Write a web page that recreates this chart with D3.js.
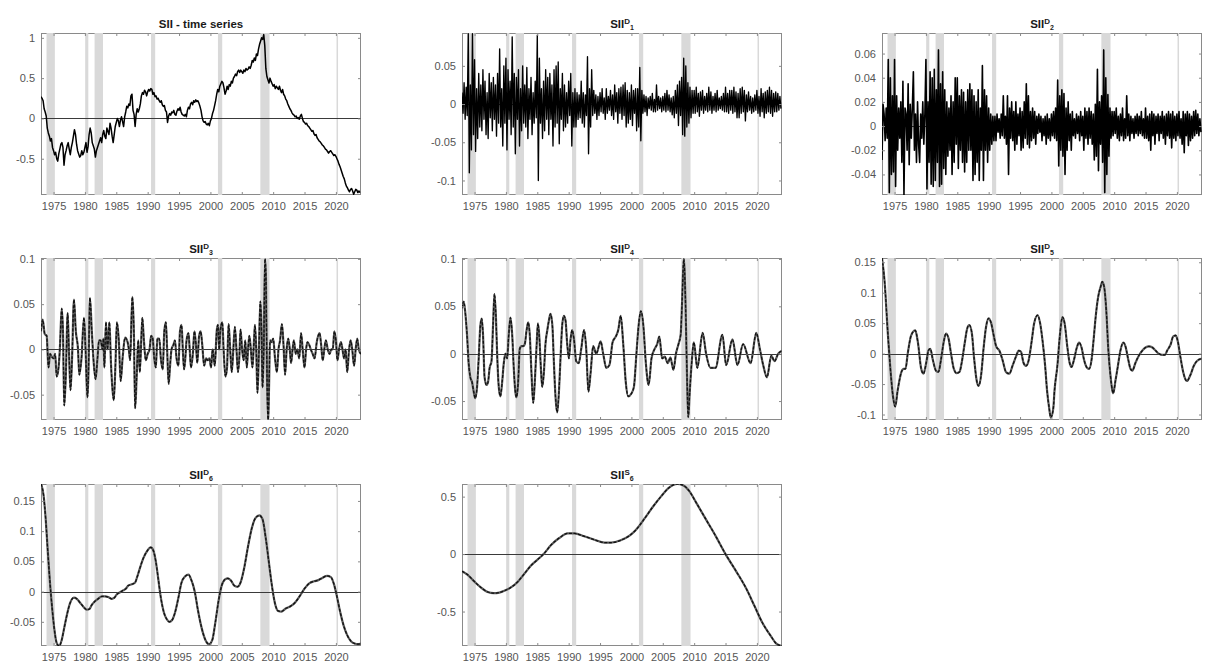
<!DOCTYPE html>
<html><head><meta charset="utf-8">
<script src="https://cdn.jsdelivr.net/npm/d3@7"></script>
<style>
body{margin:0;background:#fff}
svg{display:block}
text{font-family:"Liberation Sans",Arial,Helvetica,sans-serif}
</style>
</head><body>
<svg id="c" width="1212" height="672"></svg>
<script>
// ---------- data ----------
const xDomain = [1973, 2024];
const xTicks = [1975, 1980, 1985, 1990, 1995, 2000, 2005, 2010, 2015, 2020];
const recessions = [[1973.88,1975.21],[1980.04,1980.54],[1981.54,1982.88],[1990.54,1991.2],[2001.2,2001.88],[2007.96,2009.42],[2020.1,2020.3]];

// SII time series, two-monthly from 1973.0
const siiStart = 1973, siiStep = 1/6;
const siiValues = [
0.27,0.25,0.22,0.12,0.08,0.03, -0.12,-0.18,-0.22,-0.28,-0.25,-0.36,
-0.40,-0.45,-0.42,-0.50,-0.53,-0.44, -0.38,-0.32,-0.30,-0.36,-0.58,-0.45,
-0.40,-0.34,-0.30,-0.38,-0.45,-0.36, -0.30,-0.22,-0.14,-0.20,-0.32,-0.40,
-0.44,-0.48,-0.46,-0.40,-0.45,-0.42, -0.36,-0.30,-0.42,-0.35,-0.20,-0.12,
-0.18,-0.30,-0.34,-0.38,-0.48,-0.40, -0.36,-0.32,-0.28,-0.24,-0.30,-0.20,
-0.15,-0.22,-0.25,-0.12,-0.16,-0.20, -0.06,-0.12,-0.22,-0.30,-0.20,-0.10,
-0.05,0.00,-0.03,-0.10,-0.02,0.02, -0.04,-0.10,0.02,0.08,0.15,0.13,
0.18,0.16,0.28,0.30,0.10,0.05, -0.10,0.05,0.12,0.08,0.12,0.18,
0.28,0.32,0.30,0.35,0.33,0.28, 0.33,0.36,0.34,0.37,0.36,0.30,
0.32,0.27,0.28,0.24,0.25,0.22, 0.20,0.22,0.17,0.15,0.16,0.10,
0.08,-0.05,0.03,0.06,0.04,0.08, 0.07,0.10,0.05,0.04,0.09,0.12,
0.10,0.14,0.08,0.05,0.04,0.03, 0.05,0.02,0.10,0.14,0.12,0.18,
0.20,0.17,0.22,0.20,0.23,0.21, 0.22,0.19,0.15,0.10,0.02,-0.03,
-0.05,-0.04,-0.07,-0.08,-0.06,-0.09, -0.03,0.00,0.06,0.10,0.16,0.22,
0.30,0.36,0.33,0.40,0.43,0.46, 0.44,0.38,0.30,0.34,0.40,0.36,
0.42,0.40,0.46,0.44,0.50,0.52, 0.55,0.53,0.58,0.60,0.57,0.60,
0.58,0.56,0.60,0.58,0.62,0.60, 0.61,0.64,0.62,0.66,0.72,0.70,
0.75,0.72,0.80,0.78,0.86,0.92, 0.96,1.00,0.98,1.04,0.90,0.62,
0.52,0.48,0.44,0.50,0.46,0.43, 0.40,0.42,0.37,0.40,0.38,0.36,
0.40,0.35,0.32,0.36,0.30,0.28, 0.24,0.22,0.18,0.15,0.12,0.10,
0.07,0.05,0.04,0.02,0.03,0.00, 0.01,-0.01,0.03,0.05,0.00,-0.04,
-0.05,-0.07,-0.06,-0.09,-0.10,-0.12, -0.14,-0.16,-0.15,-0.19,-0.21,-0.20,
-0.24,-0.26,-0.28,-0.29,-0.31,-0.33, -0.34,-0.36,-0.38,-0.39,-0.41,-0.43,
-0.41,-0.40,-0.42,-0.44,-0.46,-0.45, -0.47,-0.50,-0.53,-0.57,-0.60,-0.64,
-0.68,-0.72,-0.75,-0.80,-0.84,-0.86, -0.89,-0.91,-0.88,-0.87,-0.90,-0.94,
-0.91,-0.88,-0.89,-0.92,-0.90,-0.92
];

// D1, two-monthly from 1973.0
const d1Start = 1973, d1Step = 1/6;
const d1Values = [
0.015,-0.012,0.028,-0.02,0.022,-0.015, 0.092,-0.09,0.025,-0.06,0.092,-0.04,
0.058,-0.062,0.02,-0.045,0.04,-0.03, 0.025,-0.035,0.045,-0.02,0.03,-0.04,
0.015,-0.045,0.04,-0.018,0.028,-0.035, 0.035,-0.02,0.025,-0.042,0.04,-0.025,
0.072,-0.03,0.02,-0.055,0.05,-0.025, 0.06,-0.06,0.045,-0.02,0.03,-0.04,
0.088,-0.03,0.04,-0.065,0.035,-0.02, 0.045,-0.055,0.02,-0.035,0.05,-0.025,
0.025,-0.03,0.048,-0.045,0.02,-0.02, 0.035,-0.04,0.015,-0.025,0.03,-0.018,
0.09,-0.1,0.06,-0.025,0.02,-0.045, 0.03,-0.035,0.045,-0.02,0.035,-0.04,
0.04,-0.02,0.025,-0.055,0.045,-0.03, 0.05,-0.025,0.055,-0.052,0.02,-0.02,
0.04,-0.035,0.025,-0.03,0.015,-0.025, 0.03,-0.015,0.04,-0.055,0.015,-0.03,
0.02,-0.03,0.015,-0.02,0.012,-0.018, 0.03,-0.025,0.015,-0.03,0.012,-0.015,
0.062,-0.065,0.02,-0.03,0.045,-0.015, 0.018,-0.012,0.012,-0.02,0.01,-0.015,
0.015,-0.01,0.02,-0.012,0.008,-0.02, 0.02,-0.012,0.01,-0.008,0.018,-0.015,
0.012,-0.02,0.025,-0.01,0.015,-0.025, 0.02,-0.012,0.022,-0.02,0.025,-0.015,
0.028,-0.03,0.018,-0.025,0.015,-0.02, 0.025,-0.028,0.018,-0.012,0.02,-0.035,
0.02,-0.03,0.048,-0.048,0.018,-0.012, 0.012,-0.01,0.01,-0.015,0.008,-0.006,
0.01,-0.008,0.014,-0.01,0.006,-0.01, 0.025,-0.008,0.01,-0.006,0.008,-0.01,
0.01,-0.008,0.014,-0.01,0.018,-0.008, 0.012,-0.01,0.008,-0.014,0.01,-0.018,
0.018,-0.012,0.025,-0.028,0.03,-0.015, 0.035,-0.04,0.06,-0.042,0.05,-0.03,
0.028,-0.025,0.022,-0.018,0.018,-0.012, 0.018,-0.012,0.022,-0.01,0.014,-0.016,
0.016,-0.008,0.018,-0.012,0.01,-0.008, 0.014,-0.01,0.022,-0.008,0.016,-0.012,
0.01,-0.008,0.014,-0.01,0.018,-0.008, 0.008,-0.006,0.01,-0.008,0.014,-0.01,
0.022,-0.01,0.014,-0.012,0.018,-0.008, 0.018,-0.012,0.022,-0.01,0.016,-0.018,
0.014,-0.018,0.02,-0.012,0.022,-0.01, 0.018,-0.022,0.012,-0.01,0.016,-0.008,
0.01,-0.012,0.008,-0.01,0.012,-0.008, 0.018,-0.012,0.01,-0.016,0.02,-0.01,
0.014,-0.018,0.016,-0.012,0.018,-0.01, 0.022,-0.012,0.018,-0.016,0.014,-0.01,
0.016,-0.01,0.014,-0.008,0.01,-0.006
];

// D2, two-monthly from 1973.0
const d2Start = 1973, d2Step = 1/6;
const d2Values = [
-0.028,0.018,0.01,-0.012,0.015,-0.01, 0.055,-0.055,0.04,-0.04,0.025,-0.038,
0.055,-0.05,0.025,-0.02,0.015,-0.01, 0.02,-0.03,0.037,-0.057,0.015,0.01,
-0.02,0.035,-0.032,0.018,-0.01,0.015, 0.045,-0.02,0.01,-0.03,0.02,-0.015,
-0.03,0.01,-0.01,0.02,-0.015,0.01, 0.055,-0.052,0.02,-0.03,0.045,-0.048,
0.04,-0.05,0.047,-0.045,0.03,-0.03, 0.063,-0.05,0.035,-0.048,0.045,-0.035,
0.03,-0.04,0.02,-0.025,0.015,-0.02, 0.025,-0.04,0.02,-0.03,0.04,-0.015,
0.04,-0.035,0.025,-0.02,0.03,-0.03, 0.028,-0.038,0.02,-0.03,0.03,-0.02,
0.035,-0.02,0.03,-0.045,0.025,-0.04, 0.02,-0.03,0.03,-0.045,0.015,-0.02,
0.05,-0.045,0.03,-0.02,0.025,-0.03, 0.015,-0.02,0.01,-0.015,0.008,-0.012,
0.008,-0.012,0.01,-0.005,0.006,-0.01, 0.01,-0.008,0.025,-0.01,0.008,-0.015,
0.025,-0.04,0.015,-0.01,0.02,-0.012, 0.012,-0.02,0.02,-0.015,0.01,-0.008,
0.015,-0.02,0.012,-0.018,0.02,-0.01, 0.035,-0.015,0.025,-0.018,0.012,-0.012,
0.015,-0.01,0.012,-0.015,0.008,-0.006, 0.01,-0.005,0.008,-0.012,0.006,-0.008,
0.008,-0.015,0.01,-0.01,0.006,-0.012, 0.01,-0.008,0.012,-0.01,0.015,-0.012,
0.038,-0.033,0.025,-0.02,0.03,-0.025, 0.027,-0.04,0.015,-0.02,0.02,-0.012,
0.01,-0.02,0.012,-0.008,0.006,-0.01, 0.01,-0.006,0.008,-0.012,0.012,-0.008,
0.008,-0.02,0.015,-0.01,0.012,-0.015, 0.015,-0.01,0.012,-0.015,0.01,-0.028,
0.018,-0.025,0.047,-0.037,0.02,-0.015, 0.025,-0.03,0.063,-0.055,0.04,-0.04,
0.026,-0.025,0.015,-0.01,0.012,-0.008, 0.012,-0.006,0.015,-0.01,0.008,-0.012,
0.01,-0.008,0.015,-0.012,0.006,-0.01, 0.025,-0.008,0.01,-0.012,0.008,-0.006,
0.006,-0.01,0.008,-0.006,0.01,-0.008, 0.008,-0.006,0.012,-0.008,0.006,-0.01,
0.015,-0.01,0.008,-0.012,0.01,-0.02, 0.012,-0.008,0.01,-0.015,0.008,-0.006,
0.01,-0.012,0.008,-0.006,0.012,-0.01, 0.008,-0.015,0.01,-0.008,0.012,-0.01,
0.01,-0.018,0.012,-0.01,0.008,-0.012, 0.01,-0.008,0.012,-0.01,0.006,-0.015,
0.012,-0.022,0.01,-0.008,0.012,-0.016, 0.01,-0.012,0.008,-0.01,0.012,-0.008,
0.013,-0.006,0.01,-0.008,0.006,-0.005
];

// D3 .. S6 : [year, value]
const d3Points = [
[1973.0,0.02],[1973.27,0.033],[1973.6,0.017],[1973.9,0.015],[1974.2,-0.02],[1974.45,-0.005],[1974.7,-0.008],[1975.0,-0.01],
[1975.25,-0.005],[1975.5,-0.03],[1975.8,-0.02],[1976.0,0.0],[1976.3,0.045],[1976.5,0.02],[1976.7,-0.062],[1976.95,-0.03],
[1977.25,0.04],[1977.45,0.0],[1977.7,-0.045],[1977.95,-0.01],[1978.25,0.055],[1978.55,0.02],[1978.9,0.0],[1979.1,-0.028],
[1979.45,-0.01],[1979.85,0.035],[1980.1,0.0],[1980.4,-0.053],[1980.55,-0.03],[1980.8,0.057],[1981.1,0.02],[1981.35,-0.01],
[1981.7,-0.033],[1982.0,-0.01],[1982.25,0.01],[1982.5,0.01],[1982.8,0.0],[1982.95,0.012],[1983.1,-0.02],[1983.35,0.03],
[1983.6,0.0],[1983.9,0.03],[1984.15,-0.015],[1984.4,-0.045],[1984.6,-0.056],[1984.85,-0.02],[1985.1,0.03],[1985.4,0.01],
[1985.7,-0.035],[1986.0,-0.01],[1986.4,0.013],[1986.8,0.008],[1987.0,0.0],[1987.2,-0.012],[1987.55,0.058],[1987.8,0.02],
[1988.0,-0.065],[1988.25,-0.03],[1988.5,0.01],[1988.75,-0.025],[1989.15,0.035],[1989.4,0.01],[1989.7,-0.012],[1990.0,-0.005],
[1990.3,0.0],[1990.55,0.015],[1990.8,0.012],[1991.05,-0.01],[1991.3,-0.02],[1991.55,0.012],[1991.85,0.012],[1992.1,-0.01],
[1992.4,-0.022],[1992.65,0.02],[1992.9,0.03],[1993.1,0.0],[1993.35,-0.038],[1993.55,-0.02],[1993.8,0.0],[1994.1,0.005],
[1994.35,0.01],[1994.6,-0.01],[1994.9,-0.018],[1995.15,0.02],[1995.4,0.027],[1995.6,0.0],[1995.8,-0.022],[1996.0,-0.01],
[1996.2,0.01],[1996.5,0.018],[1996.7,0.0],[1996.9,-0.02],[1997.2,-0.005],[1997.45,0.02],[1997.7,0.005],[1997.9,-0.015],
[1998.2,0.015],[1998.45,0.02],[1998.7,0.005],[1999.0,-0.018],[1999.3,-0.01],[1999.55,-0.012],[1999.85,-0.01],[2000.1,-0.02],
[2000.35,0.0],[2000.7,-0.018],[2001.0,0.02],[2001.2,0.027],[2001.4,0.0],[2001.6,0.022],[2001.9,0.03],[2002.1,0.0],
[2002.4,-0.03],[2002.65,-0.02],[2002.9,0.028],[2003.15,0.0],[2003.4,-0.025],[2003.65,0.0],[2003.9,0.025],[2004.15,0.0],
[2004.4,-0.025],[2004.6,-0.01],[2004.8,0.022],[2005.05,0.0],[2005.3,-0.012],[2005.55,0.01],[2005.8,-0.02],[2006.0,0.0],
[2006.2,0.015],[2006.45,0.0],[2006.7,-0.02],[2006.95,0.01],[2007.1,0.027],[2007.3,0.0],[2007.5,-0.048],[2007.7,-0.01],
[2007.95,0.053],[2008.15,0.02],[2008.3,-0.042],[2008.5,0.0],[2008.7,0.1],[2008.85,0.08],[2009.0,-0.02],[2009.2,-0.08],
[2009.35,-0.04],[2009.5,0.01],[2009.75,0.008],[2010.0,0.012],[2010.3,-0.01],[2010.6,-0.025],[2010.85,0.0],[2011.1,0.01],
[2011.4,0.028],[2011.65,0.005],[2011.9,-0.028],[2012.15,0.0],[2012.4,0.012],[2012.65,0.0],[2012.85,-0.015],[2013.1,0.0],
[2013.3,0.01],[2013.6,-0.005],[2013.85,0.0],[2014.15,-0.01],[2014.45,0.018],[2014.7,0.0],[2015.0,-0.02],[2015.25,0.0],
[2015.45,0.008],[2015.75,0.005],[2016.0,0.0],[2016.3,-0.005],[2016.6,-0.01],[2016.95,0.008],[2017.4,0.018],[2017.65,0.005],
[2017.9,-0.012],[2018.15,0.0],[2018.4,0.01],[2018.7,0.0],[2019.0,-0.005],[2019.25,0.0],[2019.5,0.0],[2019.75,0.02],
[2020.0,0.01],[2020.25,-0.012],[2020.5,0.0],[2020.8,0.008],[2021.05,0.0],[2021.3,-0.01],[2021.55,0.0],[2021.8,-0.025],
[2022.1,0.0],[2022.35,0.01],[2022.6,0.0],[2022.9,-0.018],[2023.15,0.0],[2023.4,0.012],[2023.65,0.0],[2024.0,-0.005]
];

const d4Points = [
[1973.0,0.048],[1973.27,0.055],[1973.5,0.045],[1973.8,0.02],[1974.06,-0.01],[1974.33,-0.025],[1974.6,-0.03],[1974.86,-0.04],
[1975.1,-0.047],[1975.4,-0.035],[1975.66,-0.005],[1975.93,0.03],[1976.15,0.037],[1976.35,0.02],[1976.6,-0.025],[1976.9,-0.033],
[1977.15,-0.03],[1977.4,-0.015],[1977.7,-0.008],[1977.95,0.03],[1978.17,0.063],[1978.4,0.04],[1978.6,0.0],[1978.86,-0.035],
[1979.12,-0.045],[1979.4,-0.03],[1979.66,-0.01],[1979.92,0.0],[1980.2,-0.005],[1980.45,0.02],[1980.72,0.038],[1981.0,0.02],
[1981.25,-0.015],[1981.5,-0.04],[1981.68,-0.046],[1981.95,-0.03],[1982.2,0.005],[1982.48,0.008],[1982.75,0.008],[1983.0,0.01],
[1983.3,0.025],[1983.55,0.033],[1983.8,0.02],[1984.07,-0.02],[1984.35,-0.052],[1984.6,-0.03],[1984.9,0.01],[1985.1,0.032],
[1985.3,0.02],[1985.57,-0.015],[1985.78,-0.035],[1986.05,-0.02],[1986.3,0.01],[1986.6,0.025],[1986.85,0.035],[1987.1,0.042],
[1987.4,0.03],[1987.65,-0.01],[1987.9,-0.045],[1988.17,-0.062],[1988.45,-0.04],[1988.7,-0.005],[1988.97,0.03],[1989.24,0.04],
[1989.5,0.035],[1989.77,0.01],[1990.04,-0.005],[1990.3,0.015],[1990.55,0.025],[1990.85,0.015],[1991.2,-0.008],[1991.6,-0.01],
[1992.0,0.005],[1992.45,0.025],[1992.8,0.005],[1993.15,-0.04],[1993.5,-0.02],[1993.9,0.008],[1994.4,0.0],[1995.1,0.013],
[1995.5,0.0],[1996.0,-0.015],[1996.5,-0.012],[1997.0,0.012],[1997.5,0.018],[1997.9,0.025],[1998.3,0.04],[1998.7,0.01],
[1999.1,-0.03],[1999.5,-0.045],[2000.0,-0.042],[2000.4,-0.035],[2000.8,0.0],[2001.15,0.03],[2001.5,0.045],[2001.9,0.03],
[2002.3,-0.01],[2002.75,-0.033],[2003.2,-0.005],[2003.7,0.005],[2004.1,0.01],[2004.45,0.018],[2004.9,-0.005],[2005.3,-0.003],
[2005.8,-0.01],[2006.2,-0.004],[2006.7,-0.017],[2007.1,0.0],[2007.5,0.01],[2007.85,0.02],[2008.05,0.05],[2008.35,0.1],
[2008.6,0.06],[2008.85,-0.02],[2009.05,-0.067],[2009.3,-0.04],[2009.6,-0.01],[2009.95,0.012],[2010.5,-0.015],[2011.35,0.022],
[2011.9,0.0],[2012.6,-0.015],[2013.4,-0.015],[2014.5,0.02],[2015.1,-0.012],[2016.1,0.015],[2016.9,-0.012],[2017.8,0.01],
[2019.0,-0.01],[2019.9,0.022],[2020.5,0.004],[2021.0,-0.012],[2021.6,-0.025],[2022.3,-0.002],[2022.8,-0.008],[2023.4,0.0],
[2024.0,0.003]
];

const d5Points = [
[1973.0,0.157],[1973.4,0.12],[1973.95,0.03],[1974.3,-0.02],[1974.75,-0.07],[1975.1,-0.087],[1975.5,-0.06],[1976.1,-0.03],
[1976.45,-0.025],[1976.75,-0.025],[1977.1,0.0],[1977.65,0.03],[1978.3,0.038],[1978.7,0.02],[1979.25,-0.025],[1979.6,-0.033],
[1980.05,-0.015],[1980.4,0.005],[1980.7,0.008],[1981.1,-0.01],[1981.6,-0.028],[1982.0,-0.03],[1982.4,-0.01],[1982.85,0.02],
[1983.2,0.033],[1983.6,0.025],[1984.0,0.0],[1984.45,-0.025],[1984.9,-0.032],[1985.35,-0.03],[1985.7,-0.015],[1986.15,0.015],
[1986.55,0.04],[1986.9,0.047],[1987.3,0.035],[1987.7,-0.01],[1988.1,-0.045],[1988.4,-0.053],[1988.8,-0.035],[1989.2,0.01],
[1989.6,0.045],[1990.0,0.058],[1990.4,0.05],[1990.8,0.03],[1991.2,0.012],[1991.7,0.005],[1992.2,-0.01],[1992.75,-0.03],
[1993.3,-0.033],[1993.8,-0.02],[1994.35,-0.005],[1994.8,0.005],[1995.15,0.003],[1995.55,-0.015],[1995.95,-0.02],[1996.35,-0.012],
[1996.85,0.02],[1997.25,0.05],[1997.8,0.063],[1998.2,0.05],[1998.6,0.02],[1999.0,-0.02],[1999.3,-0.06],[1999.65,-0.09],
[1999.9,-0.105],[2000.3,-0.09],[2000.5,-0.06],[2000.95,-0.02],[2001.35,0.03],[2001.75,0.06],[2002.1,0.05],[2002.55,0.01],
[2002.9,-0.015],[2003.2,-0.022],[2003.6,-0.01],[2004.05,0.01],[2004.4,0.018],[2004.8,0.01],[2005.2,-0.01],[2005.6,-0.022],
[2006.0,-0.025],[2006.4,-0.01],[2006.7,0.02],[2007.05,0.06],[2007.4,0.09],[2007.85,0.11],[2008.1,0.118],[2008.4,0.11],
[2008.75,0.07],[2009.05,0.01],[2009.45,-0.04],[2009.7,-0.06],[2009.85,-0.065],[2010.2,-0.045],[2010.6,-0.02],[2011.0,0.005],
[2011.45,0.018],[2011.8,0.012],[2012.25,-0.01],[2012.6,-0.025],[2012.9,-0.028],[2013.4,-0.015],[2013.95,-0.003],[2014.5,0.005],
[2015.0,0.01],[2015.55,0.012],[2016.1,0.01],[2016.6,0.005],[2017.1,0.0],[2017.65,-0.002],[2018.1,-0.002],[2018.45,0.005],
[2019.0,0.015],[2019.4,0.028],[2019.8,0.03],[2020.15,0.02],[2020.55,-0.005],[2021.0,-0.03],[2021.35,-0.042],[2021.6,-0.045],
[2022.15,-0.035],[2022.7,-0.02],[2023.2,-0.012],[2024.0,-0.008]
];

const d6Points = [
[1973.0,0.178],[1973.4,0.16],[1973.75,0.12],[1974.06,0.07],[1974.43,0.015],[1974.8,-0.03],[1975.1,-0.06],[1975.5,-0.085],
[1975.9,-0.09],[1976.3,-0.08],[1976.7,-0.06],[1977.1,-0.04],[1977.6,-0.02],[1978.25,-0.01],[1978.7,-0.012],[1979.2,-0.018],
[1979.75,-0.025],[1980.3,-0.03],[1980.7,-0.029],[1981.1,-0.022],[1981.6,-0.016],[1982.1,-0.012],[1982.7,-0.008],[1983.2,-0.008],
[1983.7,-0.009],[1984.25,-0.012],[1984.7,-0.01],[1985.05,-0.005],[1985.6,-0.001],[1986.1,0.002],[1986.55,0.005],[1986.9,0.01],
[1987.45,0.012],[1988.0,0.015],[1988.35,0.025],[1988.8,0.04],[1989.3,0.055],[1989.85,0.066],[1990.5,0.073],[1990.9,0.068],
[1991.3,0.05],[1991.7,0.02],[1992.1,-0.01],[1992.6,-0.035],[1993.0,-0.045],[1993.45,-0.05],[1993.9,-0.047],[1994.35,-0.035],
[1994.9,-0.01],[1995.4,0.015],[1995.95,0.025],[1996.5,0.028],[1997.0,0.018],[1997.5,0.0],[1998.0,-0.03],[1998.6,-0.06],
[1999.2,-0.08],[1999.8,-0.087],[2000.3,-0.08],[2000.8,-0.05],[2001.3,-0.015],[2001.8,0.01],[2002.3,0.02],[2002.8,0.022],
[2003.3,0.018],[2003.8,0.01],[2004.3,0.008],[2004.8,0.015],[2005.4,0.04],[2006.0,0.075],[2006.6,0.105],[2007.2,0.122],
[2007.8,0.126],[2008.3,0.12],[2008.8,0.09],[2009.3,0.05],[2009.8,0.01],[2010.3,-0.02],[2010.8,-0.032],[2011.3,-0.033],
[2012.0,-0.028],[2012.8,-0.024],[2013.5,-0.018],[2014.2,-0.008],[2015.0,0.005],[2015.8,0.014],[2016.5,0.017],[2017.2,0.019],
[2017.9,0.023],[2018.6,0.026],[2019.2,0.024],[2019.7,0.012],[2020.1,-0.005],[2020.6,-0.03],[2021.2,-0.055],[2021.8,-0.072],
[2022.4,-0.082],[2023.0,-0.086],[2023.5,-0.087],[2024.0,-0.086]
];

const s6Points = [
[1973.0,-0.15],[1973.9,-0.18],[1975.0,-0.24],[1976.0,-0.29],[1977.1,-0.33],[1978.05,-0.34],[1978.95,-0.335],[1979.75,-0.32],
[1980.8,-0.29],[1981.9,-0.24],[1982.95,-0.17],[1984.0,-0.1],[1985.0,-0.05],[1986.0,0.0],[1987.2,0.08],[1988.5,0.14],
[1989.85,0.18],[1990.9,0.18],[1992.5,0.155],[1994.1,0.125],[1995.7,0.1],[1996.75,0.1],[1998.3,0.12],[1999.7,0.16],
[2000.7,0.21],[2002.1,0.31],[2003.4,0.41],[2004.7,0.5],[2006.05,0.58],[2007.3,0.61],[2008.2,0.6],[2009.2,0.55],
[2010.3,0.45],[2011.9,0.3],[2013.5,0.15],[2015.0,0.0],[2016.7,-0.15],[2018.3,-0.3],[2019.6,-0.45],[2020.9,-0.6],
[2022.3,-0.72],[2023.1,-0.78],[2024.0,-0.8]
];

// axis ranges and tick values per panel
const yDomains = [[-0.95,1.06],[-0.119,0.093],[-0.057,0.077],[-0.078,0.101],[-0.07,0.101],[-0.109,0.157],[-0.09,0.178],[-0.80,0.61]];
const yTicksList = [[-0.5,0,0.5,1],[-0.1,-0.05,0,0.05],[-0.04,-0.02,0,0.02,0.04,0.06],[-0.05,0,0.05,0.1],[-0.05,0,0.05,0.1],[-0.1,-0.05,0,0.05,0.1,0.15],[-0.05,0,0.05,0.1,0.15],[-0.5,0,0.5]];
const titles = [["SII - time series","",""],["SII","D","1"],["SII","D","2"],["SII","D","3"],["SII","D","4"],["SII","D","5"],["SII","D","6"],["SII","S","6"]];

// ---------- build ----------
const uniform = (start, step, vals) => vals.map((v, i) => [start + i * step, v]);
const seriesList = [
  {pts: uniform(siiStart, siiStep, siiValues), kind: "ts", w: 1.5},
  {pts: uniform(d1Start, d1Step, d1Values), kind: "noise", w: 1.35},
  {pts: uniform(d2Start, d2Step, d2Values), kind: "noise", w: 1.6},
  {pts: d3Points, kind: "smooth"},
  {pts: d4Points, kind: "smooth"},
  {pts: d5Points, kind: "smooth"},
  {pts: d6Points, kind: "smooth"},
  {pts: s6Points, kind: "smooth"}
];

const colLeft = [41, 462, 882], rowTop = [33, 258, 484];
const W = 320, H = 162;
const frameColor = "#8a8a8a", labelColor = "#555";
const svg = d3.select("#c");

seriesList.forEach((s, i) => {
  const col = i % 3, row = Math.floor(i / 3);
  const g = svg.append("g").attr("transform", `translate(${colLeft[col]},${rowTop[row]})`);
  const x = d3.scaleLinear().domain(xDomain).range([0, W]);
  const y = d3.scaleLinear().domain(yDomains[i]).range([H, 0]);

  g.append("clipPath").attr("id", "clip" + i).append("rect").attr("width", W).attr("height", H);

  g.append("rect").attr("x", 0.5).attr("y", 0.5).attr("width", W - 1).attr("height", H - 1)
    .attr("fill", "#fff").attr("stroke", frameColor).attr("stroke-width", 1);

  g.append("g").selectAll("rect").data(recessions).join("rect")
    .attr("x", d => x(d[0])).attr("width", d => Math.max(1.5, x(d[1]) - x(d[0])))
    .attr("y", 0).attr("height", H).attr("fill", "#d9d9d9");

  const y0 = Math.round(y(0)) + 0.5;
  g.append("line").attr("x1", 0).attr("x2", W).attr("y1", y0).attr("y2", y0)
    .attr("stroke", "#3a3a3a").attr("stroke-width", 1);

  const plot = g.append("g").attr("clip-path", `url(#clip${i})`);
  if (s.kind === "smooth") {
    const line = d3.line().x(d => x(d[0])).y(d => y(d[1])).curve(d3.curveMonotoneX);
    plot.append("path").attr("d", line(s.pts)).attr("fill", "none")
      .attr("stroke", "#5c5c5c").attr("stroke-width", 2.2).attr("stroke-linejoin", "round");
    plot.append("path").attr("d", line(s.pts)).attr("fill", "none")
      .attr("stroke", "#111").attr("stroke-width", 1.3).attr("stroke-dasharray", "3,1.6");
  } else {
    const line = d3.line().x(d => x(d[0])).y(d => y(d[1]));
    plot.append("path").attr("d", line(s.pts)).attr("fill", "none")
      .attr("stroke", "#000").attr("stroke-width", s.w)
      .attr("stroke-linejoin", "round");
  }

  // axes
  const style = sel => {
    sel.select(".domain").remove();
    sel.selectAll(".tick line").attr("stroke", frameColor);
    sel.selectAll(".tick text").attr("fill", labelColor).style("font-size", "11px")
      .style("font-family", '"Liberation Sans",Arial,Helvetica,sans-serif');
  };
  g.append("g").attr("transform", `translate(0,${H})`)
    .call(d3.axisBottom(x).tickValues(xTicks).tickFormat(d3.format("d")).tickSizeInner(-3).tickSizeOuter(0).tickPadding(7))
    .call(style);
  g.append("g")
    .call(d3.axisTop(x).tickValues(xTicks).tickFormat("").tickSizeInner(-3).tickSizeOuter(0))
    .call(style);
  g.append("g")
    .call(d3.axisLeft(y).tickValues(yTicksList[i]).tickFormat(v => String(v)).tickSizeInner(-3).tickSizeOuter(0).tickPadding(6))
    .call(style);
  g.append("g").attr("transform", `translate(${W},0)`)
    .call(d3.axisRight(y).tickValues(yTicksList[i]).tickFormat("").tickSizeInner(-3).tickSizeOuter(0))
    .call(style);

  // title
  const t = titles[i];
  const tt = g.append("text").attr("x", W / 2).attr("y", -5).attr("text-anchor", "middle")
    .attr("fill", "#1a1a1a").style("font-weight", "bold").style("font-size", "11.5px");
  tt.append("tspan").text(t[0]);
  if (t[1]) {
    tt.append("tspan").attr("dy", -4).style("font-size", "8px").text(t[1]);
    tt.append("tspan").attr("dy", 6).style("font-size", "7px").text(t[2]);
  }
});
</script>
</body></html>
